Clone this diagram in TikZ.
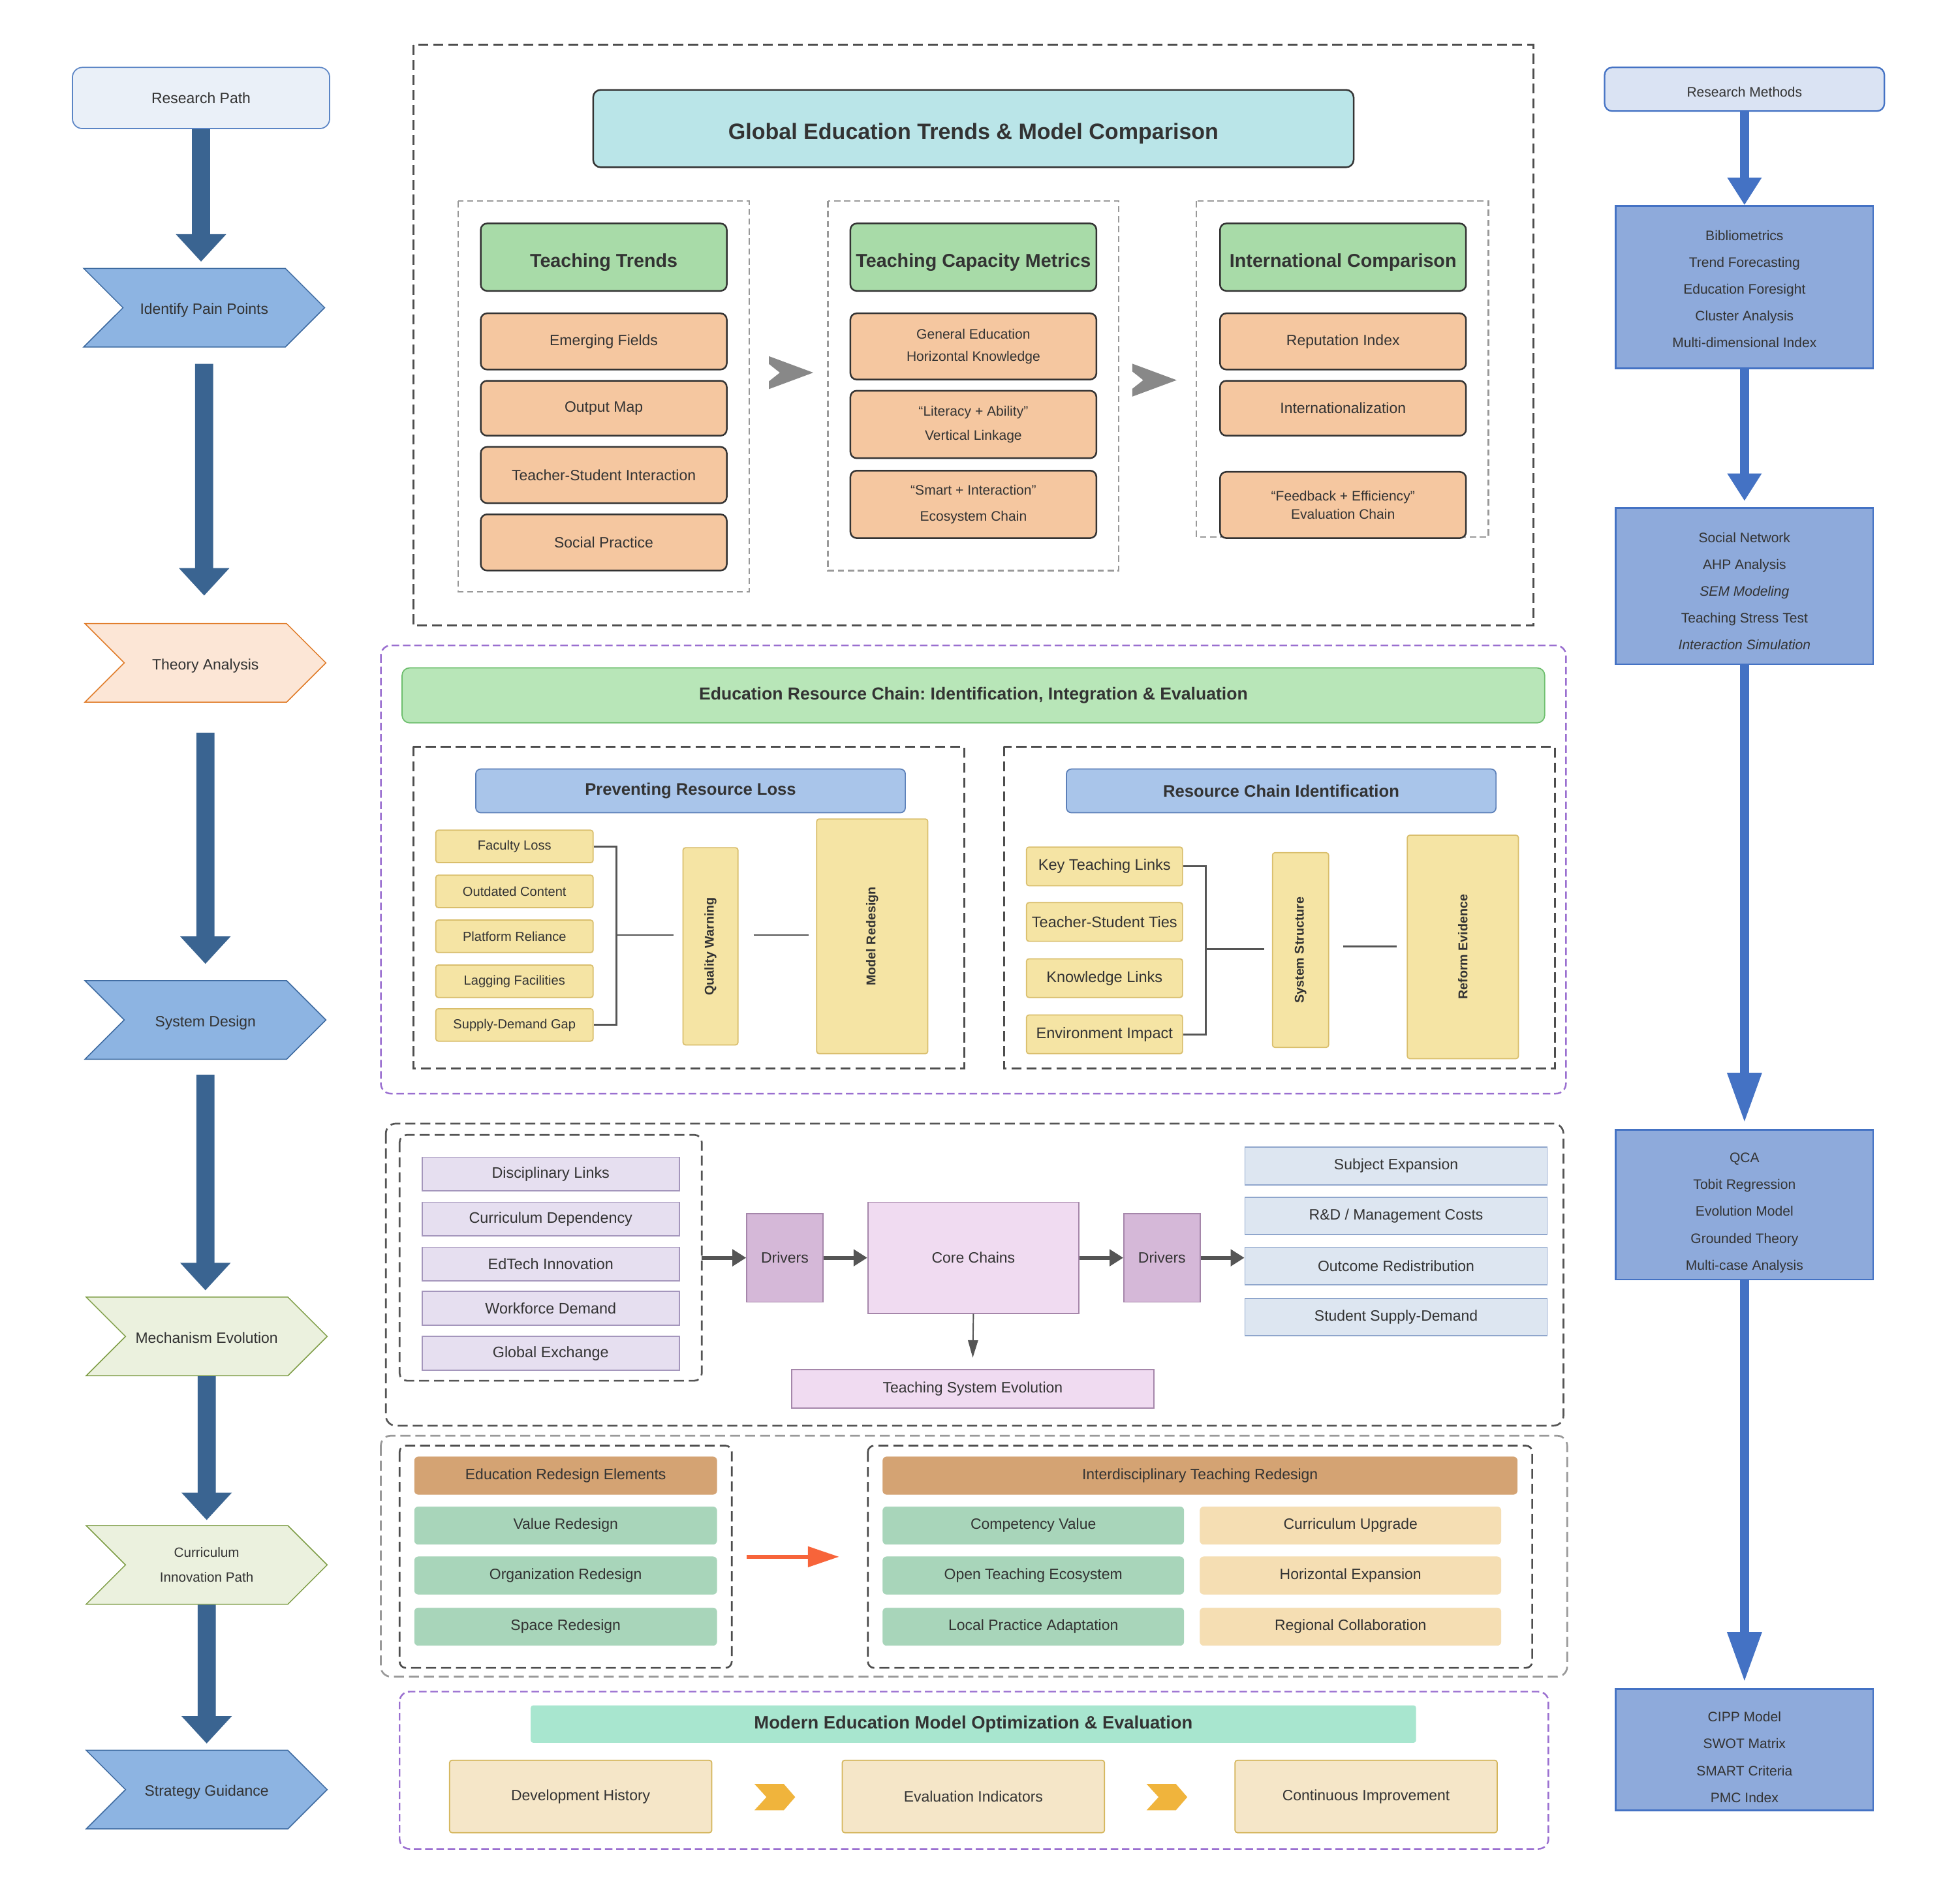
\documentclass[tikz,border=0pt]{standalone}
\usepackage{fontspec}
\setmainfont{Liberation Sans}
\usetikzlibrary{arrows.meta,positioning,shapes.symbols,calc}
\frenchspacing

\newcommand\fsz[2]{\fontsize{#1}{#2}\selectfont}

\definecolor{txt}{HTML}{333333}
\definecolor{pathblue}{HTML}{3A6491}
\definecolor{rpfill}{HTML}{EAF0F8}
\definecolor{rpdraw}{HTML}{5B85C5}
\definecolor{chbfill}{HTML}{8DB4E2}
\definecolor{chbdraw}{HTML}{3D6AA0}
\definecolor{thfill}{HTML}{FCE6D6}
\definecolor{thdraw}{HTML}{E07B28}
\definecolor{mefill}{HTML}{EBF1DE}
\definecolor{medraw}{HTML}{7F9E47}
\definecolor{methtop}{HTML}{DAE3F3}
\definecolor{methfill}{HTML}{8EAADB}
\definecolor{methblue}{HTML}{4472C4}
\definecolor{dkline}{HTML}{333333}
\definecolor{dkdash}{HTML}{4D4D4D}
\definecolor{ltdash}{HTML}{999999}
\definecolor{cyanfill}{HTML}{BAE5E8}
\definecolor{grfill}{HTML}{A8DBA8}
\definecolor{orfill}{HTML}{F5C7A0}
\definecolor{chevgray}{HTML}{888888}
\definecolor{purp}{HTML}{9A6FD0}
\definecolor{etfill}{HTML}{B8E6B8}
\definecolor{etdraw}{HTML}{6DBE6D}
\definecolor{bhfill}{HTML}{A9C5EA}
\definecolor{bhdraw}{HTML}{5B7FB8}
\definecolor{yfill}{HTML}{F5E4A4}
\definecolor{ydraw}{HTML}{D9BE6C}
\definecolor{lavfill}{HTML}{E6DFF0}
\definecolor{lavdraw}{HTML}{A496BC}
\definecolor{drvfill}{HTML}{D5B8D8}
\definecolor{drvdraw}{HTML}{A586AA}
\definecolor{corefill}{HTML}{F0DBF1}
\definecolor{blufill}{HTML}{DDE6F1}
\definecolor{bludraw}{HTML}{8FA6CC}
\definecolor{arrgray}{HTML}{555555}
\definecolor{brnfill}{HTML}{D4A373}
\definecolor{grnfill}{HTML}{A8D5BA}
\definecolor{bgefill}{HTML}{F5DEB3}
\definecolor{oarr}{HTML}{F7643A}
\definecolor{mintfill}{HTML}{A8E6CF}
\definecolor{crfill}{HTML}{F5E6C8}
\definecolor{crdraw}{HTML}{D4B55A}
\definecolor{ychevfill}{HTML}{F0B43C}

\tikzset{
  every node/.style={text=txt, align=center, inner sep=1pt},
  chev/.style={shape=signal, signal from=west, signal to=east, signal pointer angle=90,
    minimum width=193pt, minimum height=63pt, inner sep=0pt, line width=0.8pt, font=\fsz{12}{14},
    text height=10.6pt, text depth=0pt},
  parrow/.style={draw=pathblue, line width=14.5pt, -{Triangle[width=39pt,length=22pt]}},
  mbox/.style={fill=methfill, draw=methblue, line width=1.4pt, minimum width=206pt},
  mtext/.style={font=\fsz{11}{21.5}},
  marrow/.style={draw=methblue, line width=7pt, -{Triangle[width=26pt,length=22pt]}},
  outerdash/.style={draw=dkdash, line width=1.6pt, dash pattern=on 8pt off 4pt},
  grpdash/.style={draw=ltdash, line width=1.2pt, dash pattern=on 5pt off 3pt},
  purpdash/.style={draw=purp, line width=1.3pt, dash pattern=on 6pt off 3pt, rounded corners=8pt},
  ghead/.style={fill=grfill, draw=dkline, line width=1.3pt, rounded corners=5pt,
    minimum width=197pt, minimum height=54pt, font=\bfseries\fsz{15}{18},
    text height=16pt, text depth=0pt},
  obox/.style={fill=orfill, draw=dkline, line width=1.3pt, rounded corners=5pt,
    minimum width=197pt, font=\fsz{12}{14}},
  bhead/.style={fill=bhfill, draw=bhdraw, line width=0.9pt, rounded corners=4pt,
    minimum width=344pt, minimum height=35pt, font=\bfseries\fsz{13.4}{16}},
  ybox/.style={fill=yfill, draw=ydraw, line width=0.9pt, rounded corners=2pt},
  vlbl/.style={rotate=90, font=\bfseries\fsz{10.3}{12}},
  brk/.style={draw=arrgray, line width=1.5pt},
  lav/.style={fill=lavfill, draw=lavdraw, line width=0.9pt, minimum width=206pt, minimum height=27pt, font=\fsz{12.2}{14}},
  drv/.style={fill=drvfill, draw=drvdraw, line width=0.9pt, minimum width=61pt, minimum height=71pt, font=\fsz{12}{14}},
  blu/.style={fill=blufill, draw=bludraw, line width=0.9pt, minimum width=242pt, minimum height=30pt, font=\fsz{12}{14}},
  garrow/.style={draw=arrgray, line width=3pt, -{Triangle[width=13pt,length=11pt]}},
  brn/.style={fill=brnfill, draw=brnfill, rounded corners=3pt, minimum height=30pt, font=\fsz{12}{14}},
  grn/.style={fill=grnfill, draw=grnfill, rounded corners=3pt, minimum width=242pt, minimum height=30pt, font=\fsz{12}{14}},
  bge/.style={fill=bgefill, draw=bgefill, rounded corners=3pt, minimum width=242pt, minimum height=30pt, font=\fsz{12}{14}},
  cream/.style={fill=crfill, draw=crdraw, line width=0.9pt, rounded corners=2pt, minimum width=210pt, minimum height=58pt, font=\fsz{12}{14}},
  gchev/.pic={\fill[chevgray] (-17.8,-13.2) -- (17.8,0) -- (-17.8,13.2) -- (-17.8,7) -- (-9,0) -- (-17.8,-7) -- cycle;},
  ychev/.pic={\fill[ychevfill] (-16.3,-10.5) -- (7.2,-10.5) -- (16.3,0) -- (7.2,10.5) -- (-16.3,10.5) -- (-6.7,0) -- cycle;}
}

\begin{document}
\begin{tikzpicture}[x=1pt, y=-1pt]
\fill[white] (0,0) rectangle (1568,1525);
\useasboundingbox (0,0) rectangle (1568,1525);

% research path column
\node[fill=rpfill, draw=rpdraw, line width=0.9pt, rounded corners=8pt, minimum width=206pt, minimum height=49pt, font=\fsz{12}{14}] (rpath) at (161,78.5) {Research Path};
\node[chev, fill=chbfill, draw=chbdraw] (pain) at (163.5,246.5) {Identify Pain Points};
\node[chev, fill=thfill, draw=thdraw] (theory) at (164.5,531) {Theory Analysis};
\node[chev, fill=chbfill, draw=chbdraw] (sysd) at (164.5,817) {System Design};
\node[chev, fill=mefill, draw=medraw] (mech) at (165.5,1070.5) {Mechanism Evolution};
\node[chev, fill=mefill, draw=medraw, font=\fsz{10.8}{20}, text height=, text depth=] (curr) at (165.5,1253.5) {Curriculum\\Innovation Path};
\node[chev, fill=chbfill, draw=chbdraw] (strat) at (165.5,1433.5) {Strategy Guidance};
\draw[parrow, shorten >=5pt] (rpath) -- (rpath |- pain.north);
\draw[parrow, shorten <=13pt, shorten >=22pt] (pain) -- (pain |- theory.north);
\draw[parrow, shorten <=24pt, shorten >=13pt] (theory) -- (theory |- sysd.north);
\draw[parrow, shorten <=12pt, shorten >=5pt] (sysd) -- (sysd |- mech.north);
\draw[parrow, shorten >=4pt] (mech) -- (mech |- curr.north);
\draw[parrow, shorten >=5pt] (curr) -- (curr |- strat.north);

% research methods column
\node[fill=methtop, draw=methblue, line width=1.2pt, rounded corners=6pt, minimum width=224pt, minimum height=35pt, font=\fsz{11}{13}, text height=12pt, text depth=0pt] (rmeth) at (1397,71.5) {Research Methods};
\node[mbox, minimum height=130pt] (m1) at (1397,230) {};
\node[mtext] (m1t) at ([yshift=-1.5pt]m1) {Bibliometrics\\Trend Forecasting\\Education Foresight\\Cluster Analysis\\Multi-dimensional Index};
\node[mbox, minimum height=125pt] (m2) at (1397,469.5) {};
\node[mtext] (m2t) at ([yshift=-4pt]m2) {Social Network\\AHP Analysis\\\textit{SEM Modeling}\\Teaching Stress Test\\\textit{Interaction Simulation}};
\node[mbox, minimum height=120pt] (m3) at (1397,965) {};
\node[mtext] (m3t) at ([yshift=-6.5pt]m3) {QCA\\Tobit Regression\\Evolution Model\\Grounded Theory\\Multi-case Analysis};
\node[mbox, minimum height=97pt] (m4) at (1397,1401.5) {};
\node[mtext] (m4t) at ([yshift=-6pt]m4) {CIPP Model\\SWOT Matrix\\SMART Criteria\\PMC Index};
\draw[marrow] (rmeth) -- (m1);
\draw[marrow, shorten >=5pt] (m1) -- (m2);
\draw[marrow, -{Triangle[width=26pt,length=40pt]}, shorten >=5pt] (m2) -- (m3);
\draw[marrow, -{Triangle[width=26pt,length=40pt]}, shorten >=5pt] (m3) -- (m4);

% global trends block
\draw[outerdash] (331,36) rectangle (1228,501);
\node[fill=cyanfill, draw=dkline, line width=1.3pt, rounded corners=6pt, minimum width=609pt, minimum height=62pt, font=\bfseries\fsz{17.8}{20}, text height=17pt, text depth=0pt] (gtitle) at (779.5,103) {Global Education Trends \& Model Comparison};
\draw[grpdash] (367,161) rectangle (600,474);
\draw[grpdash] (663,161) rectangle (896,457);
\draw[grpdash] (958,161) rectangle (1192,430);
\node[ghead] (hA) at (483.5,206) {Teaching Trends};
\node[ghead] (hB) at (779.5,206) {Teaching Capacity Metrics};
\node[ghead] (hC) at (1075.5,206) {International Comparison};
\node[obox, minimum height=45pt] (a1) at (483.5,273.5) {Emerging Fields};
\node[obox, minimum height=44pt] (a2) at (483.5,327) {Output Map};
\node[obox, minimum height=45pt] (a3) at (483.5,380.5) {Teacher-Student Interaction};
\node[obox, minimum height=45pt] (a4) at (483.5,434.5) {Social Practice};
\node[obox, minimum height=53pt, font=\fsz{11}{18}] (b1) at (779.5,277.5) {General Education\\Horizontal Knowledge};
\node[obox, minimum height=54pt, font=\fsz{11}{19.5}] (b2) at (779.5,340) {“Literacy + Ability”\\Vertical Linkage};
\node[obox, minimum height=54pt, font=\fsz{11}{21}] (b3) at (779.5,404) {“Smart + Interaction”\\Ecosystem Chain};
\node[obox, minimum height=45pt] (c1) at (1075.5,273.5) {Reputation Index};
\node[obox, minimum height=44pt] (c2) at (1075.5,327) {Internationalization};
\node[obox, minimum height=53pt, font=\fsz{11}{15}] (c3) at (1075.5,404.5) {“Feedback + Efficiency”\\Evaluation Chain};
\pic at (633.5,298.5) {gchev};
\pic at (924.5,304.5) {gchev};

% resource chain block
\draw[purpdash] (305,517) rectangle (1254,876);
\node[fill=etfill, draw=etdraw, line width=0.9pt, rounded corners=6pt, minimum width=915pt, minimum height=44pt, font=\bfseries\fsz{13.9}{16}] (etitle) at (779.5,557) {Education Resource Chain: Identification, Integration \& Evaluation};
\draw[outerdash] (331,598) rectangle (772,856);
\draw[outerdash] (804,598) rectangle (1245,856);
\node[bhead] (lhead) at (553,633.5) {Preventing Resource Loss};
\node[bhead] (rhead) at (1026,633.5) {Resource Chain Identification};
\node[ybox, minimum width=126pt, minimum height=26pt, font=\fsz{10.5}{12}] (f1) at (412,678) {Faculty Loss};
\node[ybox, minimum width=126pt, minimum height=26pt, font=\fsz{10.5}{12}] (f2) at (412,714) {Outdated Content};
\node[ybox, minimum width=126pt, minimum height=26pt, font=\fsz{10.5}{12}] (f3) at (412,750) {Platform Reliance};
\node[ybox, minimum width=126pt, minimum height=26pt, font=\fsz{10.5}{12}] (f4) at (412,786) {Lagging Facilities};
\node[ybox, minimum width=126pt, minimum height=26pt, font=\fsz{10.5}{12}] (f5) at (412,821) {Supply-Demand Gap};
\node[ybox, minimum width=44pt, minimum height=158pt] (qw) at (569,758) {};
\node[vlbl] (qwt) at (qw) {Quality Warning};
\node[ybox, minimum width=89pt, minimum height=188pt] (model) at (698.5,750) {};
\node[vlbl] (modelt) at (model) {Model Redesign};
\draw[brk] (f1.east) -- ++(18,0) |- (f5.east);
\coordinate (fj) at (493,749);
\draw[brk] (fj) -- ([xshift=-7pt]qw.west |- fj);
\draw[brk] ([xshift=12pt]qw.east |- fj) -- ([xshift=-6pt]model.west |- fj);
\node[ybox, minimum width=125pt, minimum height=31pt, font=\fsz{12.3}{14}] (k1) at (884.5,694) {Key Teaching Links};
\node[ybox, minimum width=125pt, minimum height=31pt, font=\fsz{12.3}{14}] (k2) at (884.5,738.5) {Teacher-Student Ties};
\node[ybox, minimum width=125pt, minimum height=31pt, font=\fsz{12.3}{14}] (k3) at (884.5,783.5) {Knowledge Links};
\node[ybox, minimum width=125pt, minimum height=31pt, font=\fsz{12.3}{14}] (k4) at (884.5,828.5) {Environment Impact};
\node[ybox, minimum width=45pt, minimum height=156pt] (sys) at (1041.5,761) {};
\node[vlbl] (syst) at (sys) {System Structure};
\node[ybox, minimum width=89pt, minimum height=179pt] (ref) at (1171.5,758.5) {};
\node[vlbl] (reft) at (ref) {Reform Evidence};
\draw[brk] (k1.east) -- ++(18,0) |- (k4.east);
\coordinate (kj) at (966,760);
\draw[brk] (kj) -- ([xshift=-6pt]sys.west |- kj);
\draw[brk] ([xshift=11pt]sys.east |- 0,758) -- ([xshift=-8pt]ref.west |- 0,758);

% mechanism block
\draw[outerdash, draw=arrgray, line width=1.4pt, rounded corners=8pt] (309,900) rectangle (1252,1142);
\draw[outerdash, draw=arrgray, line width=1.4pt, rounded corners=6pt] (320,909) rectangle (562,1106);
\node[lav] (d1) at (441,940.5) {Disciplinary Links};
\node[lav] (d2) at (441,976.5) {Curriculum Dependency};
\node[lav] (d3) at (441,1012.5) {EdTech Innovation};
\node[lav] (d4) at (441,1048) {Workforce Demand};
\node[lav] (d5) at (441,1084) {Global Exchange};
\node[drv] (drv1) at (628.5,1007.5) {Drivers};
\node[drv, fill=corefill, minimum width=169pt, minimum height=89pt] (core) at (779.5,1007.5) {Core Chains};
\node[drv] (drv2) at (930.5,1007.5) {Drivers};
\node[blu] (o1) at (1118,934) {Subject Expansion};
\node[blu] (o2) at (1118,974) {R\&D / Management Costs};
\node[blu] (o3) at (1118,1014) {Outcome Redistribution};
\node[blu] (o4) at (1118,1055) {Student Supply-Demand};
\node[drv, fill=corefill, minimum width=290pt, minimum height=31pt] (tse) at (779,1112.5) {Teaching System Evolution};
\coordinate (dout) at (562,1007.5);
\draw[garrow] (dout) -- (drv1.west);
\draw[garrow] (drv1) -- (core);
\draw[garrow] (core) -- (drv2);
\draw[garrow] (drv2.east) -- (drv2.east -| o3.west);
\draw[draw=arrgray, line width=1pt, -{Triangle[width=8pt,length=14pt]}] (core.south) -- ([yshift=9pt]tse.north);

% redesign block
\draw[outerdash, draw=ltdash, line width=1.4pt, rounded corners=8pt] (305,1150) rectangle (1255,1343);
\draw[outerdash, line width=1.4pt, rounded corners=5pt] (320,1158) rectangle (586,1336);
\draw[outerdash, line width=1.4pt, rounded corners=5pt] (695,1158) rectangle (1227,1336);
\node[brn, minimum width=242pt] (eh) at (453,1182) {Education Redesign Elements};
\node[grn] (e1) at (453,1222) {Value Redesign};
\node[grn] (e2) at (453,1262) {Organization Redesign};
\node[grn] (e3) at (453,1303) {Space Redesign};
\node[brn, minimum width=508pt] (ih) at (961,1182) {Interdisciplinary Teaching Redesign};
\node[grn, minimum width=241pt] (i1) at (827.5,1222) {Competency Value};
\node[grn, minimum width=241pt] (i2) at (827.5,1262) {Open Teaching Ecosystem};
\node[grn, minimum width=241pt] (i3) at (827.5,1303) {Local Practice Adaptation};
\node[bge, minimum width=241pt] (j1) at (1081.5,1222) {Curriculum Upgrade};
\node[bge, minimum width=241pt] (j2) at (1081.5,1262) {Horizontal Expansion};
\node[bge, minimum width=241pt] (j3) at (1081.5,1303) {Regional Collaboration};
\coordinate (oa) at (598,1247);
\coordinate (ob) at (672,1247);
\draw[draw=oarr, line width=3pt, -{Triangle[width=16pt,length=25pt]}] (oa) -- (ob);

% optimization block
\draw[purpdash] (320,1355) rectangle (1240,1481);
\node[fill=mintfill, minimum width=709pt, minimum height=30pt, rounded corners=2pt, font=\bfseries\fsz{14.3}{16}] (mtitle) at (779.5,1381) {Modern Education Model Optimization \& Evaluation};
\node[cream] (dh) at (465,1439) {Development History};
\node[cream] (ei) at (779.5,1439) {Evaluation Indicators};
\node[cream] (ci) at (1094,1439) {Continuous Improvement};
\pic at (620.5,1439.5) {ychev};
\pic at (934.5,1439.5) {ychev};
\end{tikzpicture}
\end{document}
